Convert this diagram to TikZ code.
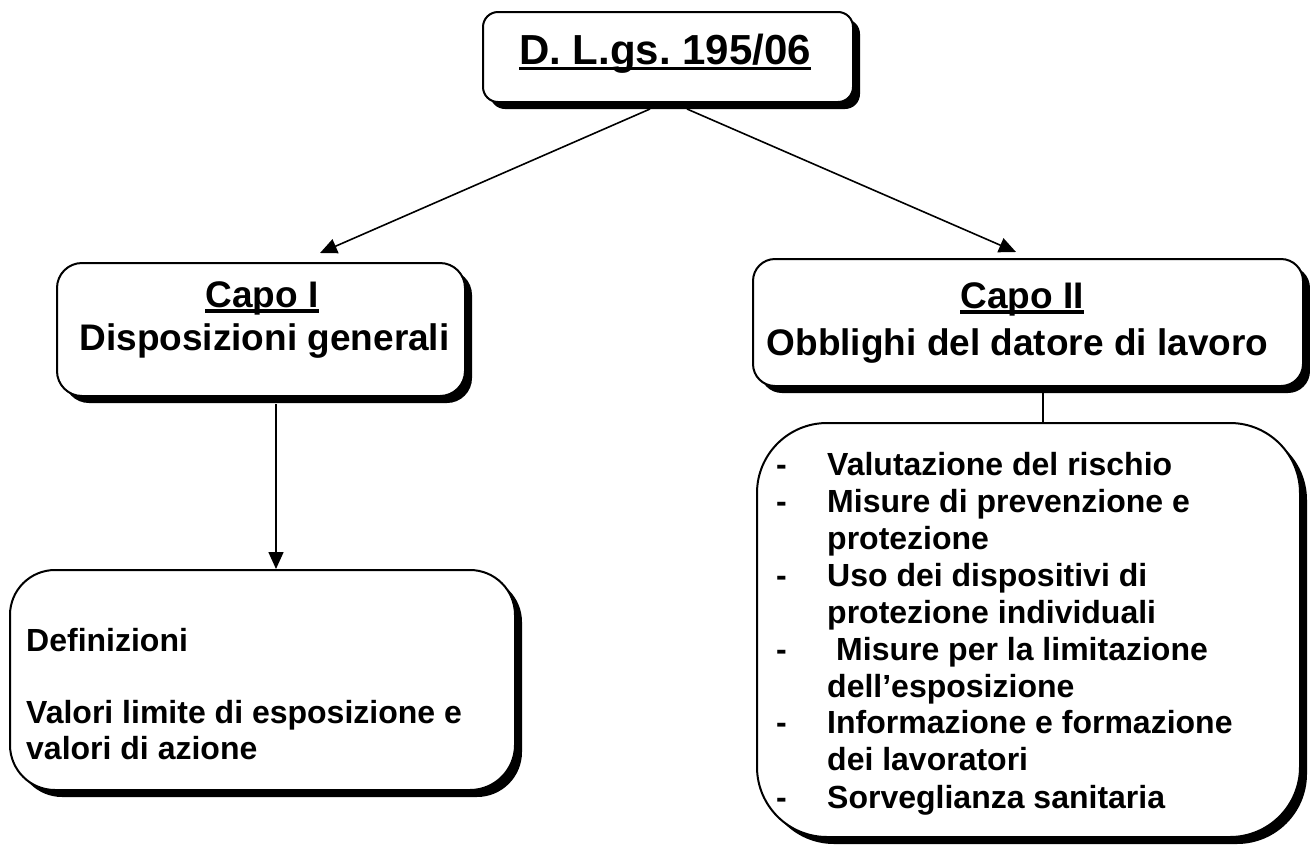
\documentclass[tikz,border=0pt]{standalone}
\usepackage{fontspec}
\setmainfont{Liberation Sans}
\usetikzlibrary{arrows.meta,calc,shadows}
\newcommand\ulx[1]{\setbox0\hbox{#1}\rlap{\rule[-0.15em]{\wd0}{0.09em}}\box0}
\frenchspacing
\begin{document}
\begin{tikzpicture}[x=1pt,y=-1pt,
  box/.style={draw, line width=2pt, fill=white, inner sep=0pt, rounded corners=#1,
    drop shadow={shadow xshift=7pt, shadow yshift=-7pt, fill=black, opacity=1}},
  conn/.style={line width=1.6pt},
  arr/.style={conn, -{Triangle[length=17pt,width=15pt]}},
  big/.style={inner sep=0pt, anchor=base, font=\bfseries\fontsize{37}{42}\selectfont},
  small/.style={inner sep=0pt, anchor=base west, font=\bfseries\fontsize{32}{37}\selectfont}]
\useasboundingbox (0,0) rectangle (1310,844);
\fill[white] (0,0) rectangle (1310,844);

% boxes
\node[box=15pt, minimum width=370pt, minimum height=90pt] (top) at (668,57) {};
\node[box=25pt, minimum width=408pt, minimum height=133pt] (capI) at (261,329.5) {};
\node[box=22pt, minimum width=550pt, minimum height=127pt] (capII) at (1028,322.5) {};
\node[box=45pt, minimum width=505pt, minimum height=220pt] (defs) at (262.5,680) {};
\node[box=70pt, minimum width=543pt, minimum height=414pt] (list) at (1028.5,630) {};

% texts
\node[big, font=\bfseries\fontsize{42}{48}\selectfont] (ttop) at (665,64) {\ulx{D. L.gs. 195/06}};
\node[big] (tcapI) at (262,307) {\ulx{Capo I}};
\node[big] (tdisp) at (264.5,350) {Disposizioni generali};
\node[big] (tcapII) at (1022,308) {\ulx{Capo II}};
\node[big] (tobbl) at (1017.5,355) {Obblighi del datore di lavoro};

\node[small] (tdef) at (26,651) {Definizioni};
\node[small] (tval1) at (26,723) {Valori limite di esposizione e};
\node[small] (tval2) at (26,759) {valori di azione};

\foreach \y/\t [count=\i] in {475/Valutazione del rischio,
    512/Misure di prevenzione e,
    549/protezione,
    586/Uso dei dispositivi di,
    623/protezione individuali,
    660/\hspace*{9pt}Misure per la limitazione,
    697/dell’esposizione,
    733/Informazione e formazione,
    770/dei lavoratori,
    808/Sorveglianza sanitaria}
  \node[small] (li\i) at (827,\y) {\t};
\foreach \y [count=\i] in {475,512,586,660,733,808}
  \node[small] (dash\i) at (776,\y) {-};

% connectors
\coordinate (s1) at ($(top.south)+(-18,6)$);
\coordinate (s2) at ($(top.south)+(19,6)$);
\coordinate (e1) at ($(capI.north)+(59,-9)$);
\coordinate (e2) at ($(capII.north)+(-12,-6)$);
\draw[arr] (s1) -- (e1);
\draw[arr] (s2) -- (e2);
\coordinate (v1) at ($(capI.south)+(15,7)$);
\draw[arr] (v1) -- (v1 |- defs.north);
\coordinate (v2) at ($(capII.south)+(15,0)$);
\draw[conn] (v2) -- (v2 |- list.north);
\end{tikzpicture}
\end{document}
